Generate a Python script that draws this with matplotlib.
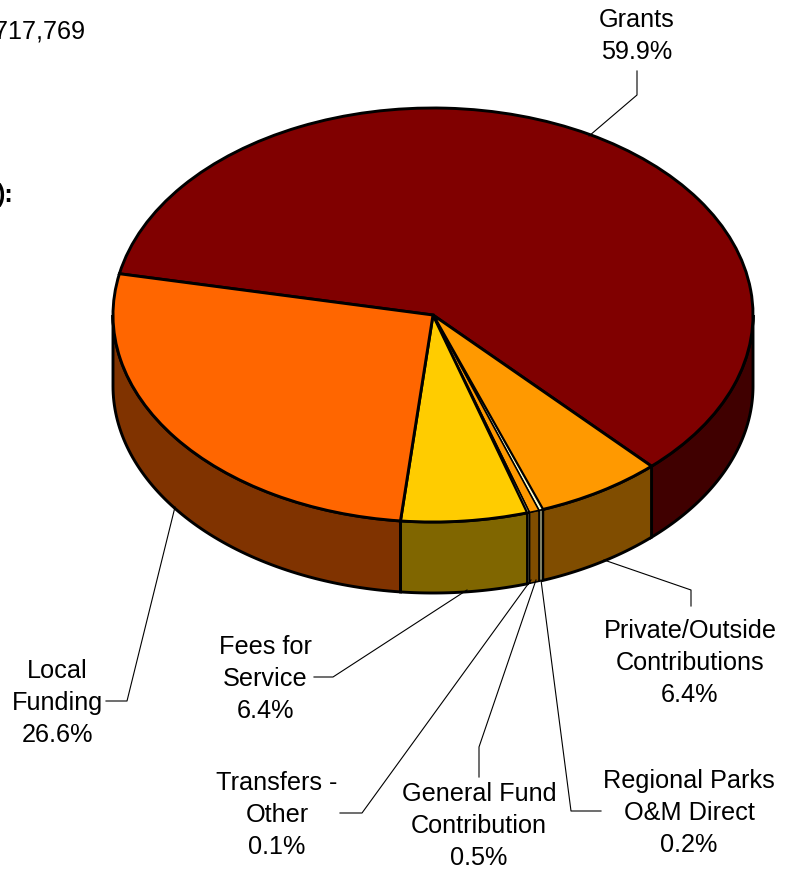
import numpy as np
import matplotlib
matplotlib.use('Agg')
import matplotlib.pyplot as plt
from matplotlib.lines import Line2D

# Pie data, clockwise from the start angle
categories = ['Grants', 'Private/Outside\nContributions', 'Regional Parks\nO&M Direct',
              'General Fund\nContribution', 'Transfers -\nOther', 'Fees for\nService', 'Local\nFunding']
shares = [59.9, 6.4, 0.2, 0.5, 0.1, 6.4, 26.6]
top_colors = ['#800000', '#FF9900', '#FFFFCC', '#FF9900', '#FFFFCC', '#FFCC00', '#FF6600']
wall_colors = ['#400000', '#804D00', '#808066', '#804D00', '#808066', '#806600', '#803300']

W, H = 797, 869
cx, cy = 433, 315       # pie centre in pixels
rx, ry = 320, 207       # ellipse half axes
depth = 71 / ry
FS = 18.2

plt.rcParams['font.family'] = ['Liberation Sans', 'DejaVu Sans']
fig = plt.figure(figsize=(W / 100, H / 100), dpi=100)
ax = fig.add_axes([0, 0, 1, 1])

wedges, _ = ax.pie(shares, colors=top_colors, startangle=168.5, counterclock=False,
                   radius=1, wedgeprops={'edgecolor': 'black', 'linewidth': 2.1, 'zorder': 3})
ax.set_aspect('auto')
ax.set_xlim(-cx / rx, (W - cx) / rx)
ax.set_ylim((cy - H) / ry, cy / ry)
ax.axis('off')

# thin slices need thin edges or the fill disappears
for w, s in zip(wedges, shares):
    if s < 1:
        w.set_linewidth(1.1)
        w.set_zorder(4)

# side wall, only the part of each wedge facing the viewer
for w, col, s in zip(wedges, wall_colors, shares):
    a1, a2 = sorted([w.theta1, w.theta2])
    # front half is 180..360 degrees
    for off in (-360, 0, 360):
        lo, hi = max(a1 + off, 180), min(a2 + off, 360)
        if hi > lo:
            t = np.radians(np.linspace(lo, hi, 80))
            xs = np.cos(t)
            ys = np.sin(t)
            px = np.concatenate([xs, xs[::-1]])
            py = np.concatenate([ys, ys[::-1] - depth])
            ax.fill(px, py, facecolor=col, edgecolor='black',
                    linewidth=1.1 if s < 1 else 2.1, zorder=2.5 if s < 1 else 2)


def fx(x):
    return x / W


def fy(y):
    return 1 - y / H


def label(x, y, s, **kw):
    fig.text(fx(x), fy(y), s, ha='center', va='center', fontsize=FS, color='black',
             linespacing=1.42, **kw)


def leader(xs, ys):
    fig.add_artist(Line2D([fx(x) for x in xs], [fy(y) for y in ys], color='black', lw=0.8))


label(637, 36, 'Grants\n59.9%')
label(690, 663, 'Private/Outside\nContributions\n6.4%')
label(689, 813, 'Regional Parks\nO&M Direct\n0.2%')
label(479, 826, 'General Fund\nContribution\n0.5%')
label(277, 815, 'Transfers -\nOther\n0.1%')
label(265, 679, 'Fees for\nService\n6.4%')
label(57, 703, 'Local\nFunding\n26.6%')

leader([637, 637, 589], [71, 95, 136])
leader([604, 691, 691], [560, 590, 606])
leader([541, 571, 601], [580, 811, 811])
leader([536, 479, 479], [580, 747, 777])
leader([531, 362, 340], [580, 813, 813])
leader([467, 333, 314], [590, 677, 677])
leader([175, 127, 106], [507, 701, 701])

# text cut off by the left edge of the picture, same as the reference
fig.text(fx(86), fy(31), r'\$717,769', ha='right', va='center', fontsize=FS)
fig.text(fx(14), fy(195), '):', ha='right', va='center', fontsize=FS, fontweight='bold')

fig.savefig('out.png', dpi=100)
